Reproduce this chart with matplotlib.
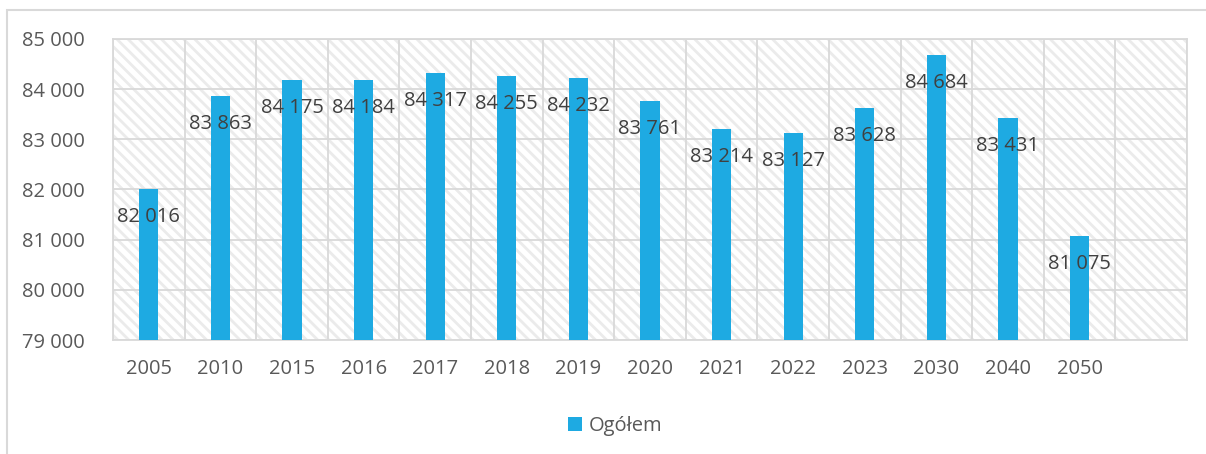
import numpy as np
import matplotlib.pyplot as plt
from matplotlib.patches import Rectangle

years = ["2005", "2010", "2015", "2016", "2017", "2018", "2019", "2020",
         "2021", "2022", "2023", "2030", "2040", "2050"]
values = [82016, 83863, 84175, 84184, 84317, 84255, 84232, 83761,
          83214, 83127, 83628, 84684, 83431, 81075]
series_name = "Ogółem"

plt.rcParams['font.family'] = ['Open Sans', 'DejaVu Sans']
plt.rcParams['hatch.linewidth'] = 2.0

grey = "#d9d9d9"
text_col = "#595959"
blue = "#1eaae2"

fig = plt.figure(figsize=(12.06, 4.54), dpi=100)
# outer chart border
fig.patches.append(Rectangle((7 / 1206, -0.1), 1.2, 1 - 10 / 454 + 0.1,
                             transform=fig.transFigure, fill=False,
                             edgecolor=grey, linewidth=1.5))

ax = fig.add_axes([113 / 1206, 1 - 340 / 454, (1187 - 113) / 1206, (340 - 39) / 454])
n_slots = len(years) + 1
ax.set_xlim(-0.5, n_slots - 0.5)
ax.set_ylim(79000, 85000)

# hatched background
ax.add_patch(Rectangle((0, 0), 1, 1, transform=ax.transAxes, facecolor="white",
                       edgecolor="#ebebeb", hatch="\\\\\\", linewidth=0, zorder=0))

x = np.arange(len(years))
ax.bar(x, np.array(values) - 79000, bottom=79000, width=0.27, color=blue,
       zorder=3, label=series_name)

for xi, v in zip(x, values):
    lab = f"{v:,}".replace(",", " ")
    ax.annotate(lab, (xi, v), xytext=(0, -28), textcoords="offset pixels",
                ha="center", va="center", fontsize=14.5, color="#404040", zorder=4)

yt = np.arange(79000, 85001, 1000)
ax.set_yticks(yt, [f"{t:,}".replace(",", " ") for t in yt])
ax.set_xticks(x, years)
ax.set_xticks(np.arange(-0.5, n_slots, 1), minor=True)
ax.tick_params(axis="both", which="both", length=0, colors=text_col, labelsize=14.5)
ax.tick_params(axis="x", pad=14)
ax.tick_params(axis="y", pad=20)
ax.grid(axis="y", which="major", color=grey, linewidth=1.3, zorder=1)
ax.grid(axis="x", which="minor", color=grey, linewidth=1.3, zorder=1)
ax.grid(axis="x", which="major", visible=False)
for s in ax.spines.values():
    s.set_color(grey)
    s.set_linewidth(1.3)

fig.legend(handles=ax.containers[0][:1], labels=[series_name], loc="center",
           bbox_to_anchor=(615 / 1206, 1 - 426 / 454), frameon=False,
           fontsize=14.5, labelcolor=text_col, handlelength=0.7, handleheight=0.7,
           handletextpad=0.3)

fig.savefig("out.png", dpi=100)
